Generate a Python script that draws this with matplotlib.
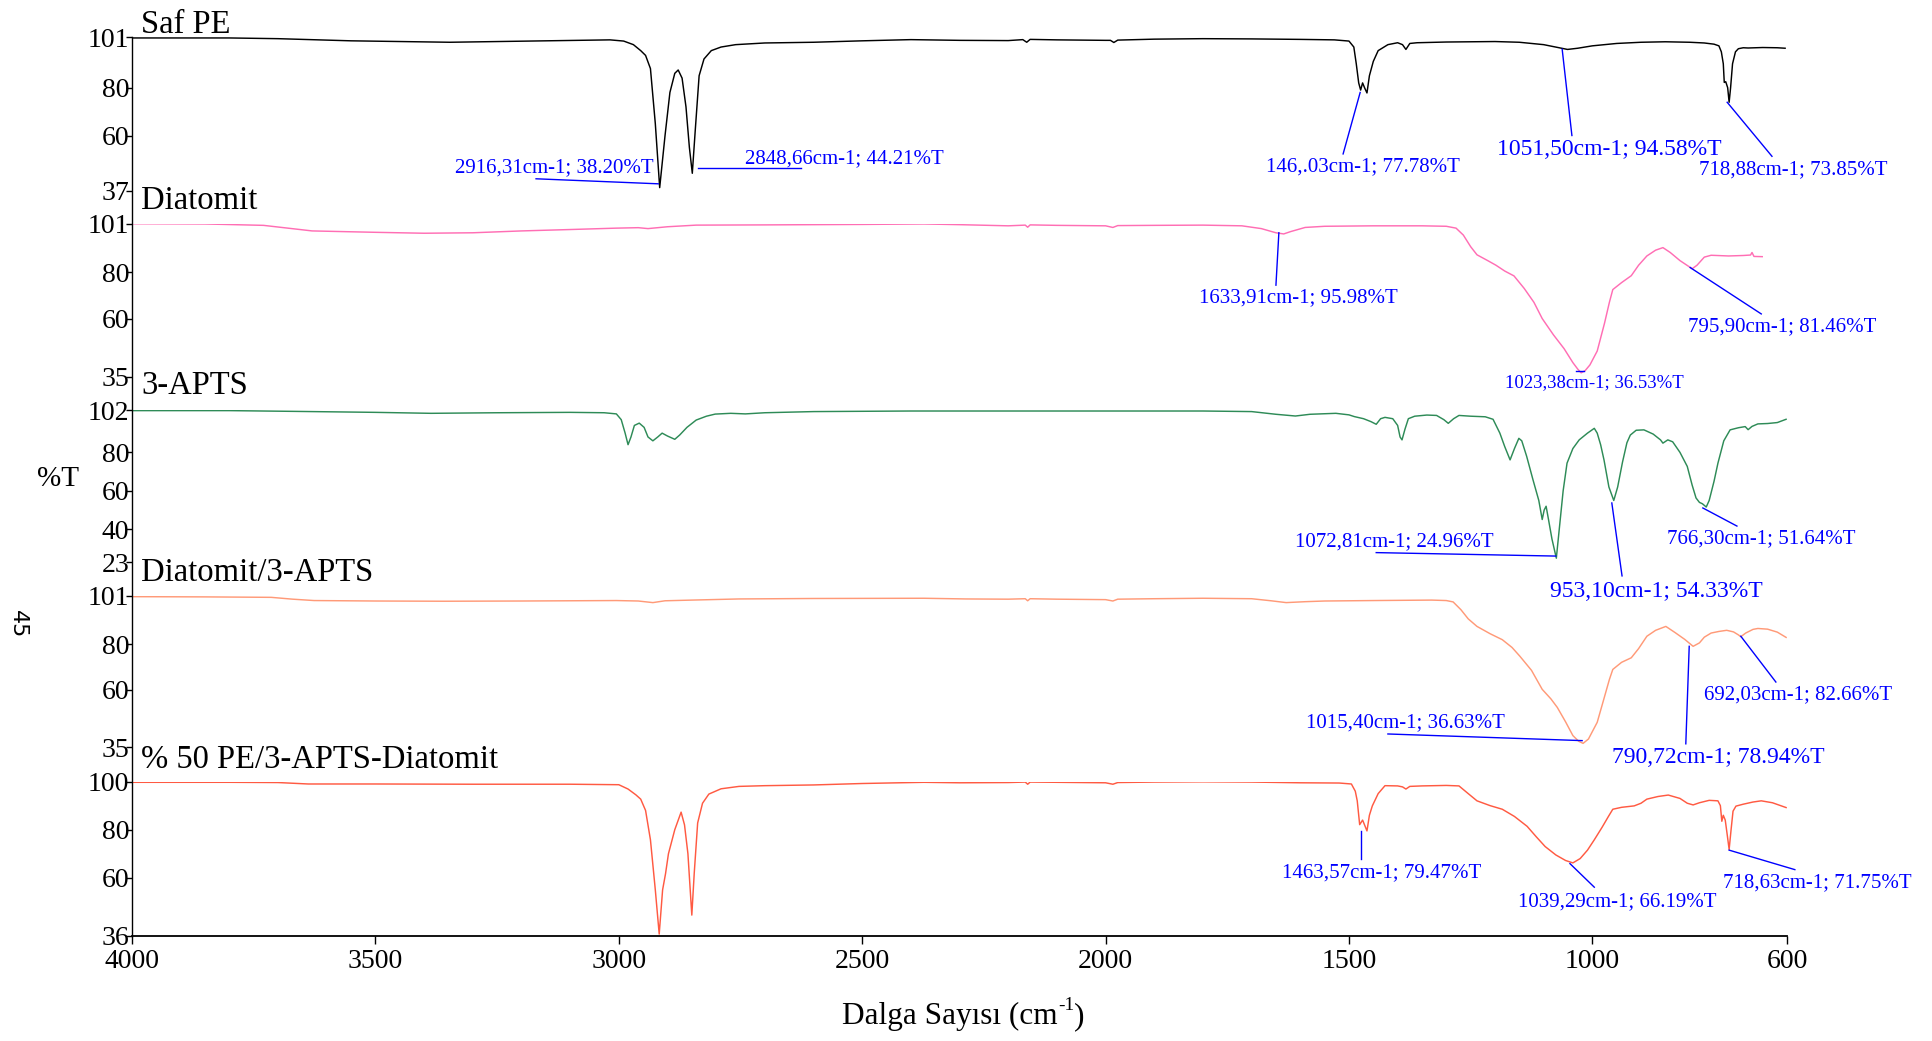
import matplotlib
matplotlib.use("Agg")
import matplotlib.pyplot as plt
from matplotlib.lines import Line2D

plt.rcParams['font.family'] = ['Liberation Serif', 'DejaVu Serif']

# ---------------- data ----------------
titles = ["Saf PE", "Diatomit", "3-APTS", "Diatomit/3-APTS", "% 50 PE/3-APTS-Diatomit"]
colors = ["#000000", "#FF6EB4", "#2E8B57", "#FF9A78", "#FF5A42"]
ylims = [(37, 101), (35, 101), (23, 102), (35, 101), (36, 100)]
yticks = [[37, 60, 80, 101], [35, 60, 80, 101], [23, 40, 60, 80, 102], [35, 60, 80, 101], [36, 60, 80, 100]]
xticks = [4000, 3500, 3000, 2500, 2000, 1500, 1000, 600]

wn_pe = [4000, 3800, 3700, 3550, 3347, 3150, 3018, 2990, 2970, 2955, 2945, 2935, 2925, 2916, 2905, 2895,
         2885, 2878, 2870, 2862, 2855, 2849, 2843, 2835, 2825, 2810, 2790, 2760, 2700, 2600, 2500, 2400,
         2300, 2200, 2170, 2162, 2155, 2100, 2000, 1990, 1983, 1975, 1900, 1800, 1700, 1600, 1530, 1500,
         1490, 1485, 1480, 1476, 1472, 1468, 1463, 1458, 1450, 1440, 1420, 1400, 1390, 1383, 1375, 1360,
         1300, 1200, 1150, 1100, 1051, 1030, 1000, 950, 900, 850, 800, 770, 750, 740, 735, 731, 729, 726,
         722, 719, 716, 712, 706, 700, 690, 680, 650, 620, 604]
t_pe = [100.8, 100.8, 100.5, 99.6, 99.0, 99.6, 100.0, 99.5, 98.0, 95.5, 93.5, 88.0, 65.0, 38.2, 60.0, 78.0,
        86.0, 87.4, 84.0, 72.0, 55.0, 44.2, 62.0, 85.0, 92.0, 95.5, 97.0, 98.0, 98.7, 99.0, 99.6, 100.1,
        99.8, 99.7, 100.1, 99.0, 100.2, 100.0, 99.8, 99.8, 98.9, 99.9, 100.3, 100.5, 100.4, 100.2, 100.0, 99.5,
        97.0, 90.0, 82.0, 79.0, 82.0, 80.0, 77.8, 85.0, 91.0, 95.5, 98.0, 98.8, 98.0, 96.0, 98.5, 98.8,
        99.1, 99.3, 99.0, 98.0, 96.0, 96.5, 97.5, 98.5, 99.0, 99.2, 99.0, 98.7, 98.2, 97.5, 95.0, 90.0, 82.2, 82.5,
        80.0, 73.9, 80.0, 90.0, 95.0, 96.3, 96.7, 96.6, 96.8, 96.7, 96.5]

wn_dia = [4000, 3850, 3730, 3680, 3630, 3500, 3400, 3300, 3200, 3100, 3005, 2960, 2940, 2900, 2841, 2700,
          2500, 2373, 2300, 2200, 2165, 2160, 2155, 2100, 2000, 1985, 1975, 1900, 1800, 1720, 1680, 1650,
          1634, 1620, 1590, 1550, 1450, 1350, 1300, 1280, 1265, 1250, 1237, 1215, 1198, 1180, 1161, 1140,
          1120, 1103, 1080, 1058, 1040, 1030, 1023, 1015, 1005, 990, 975, 965, 958, 940, 920, 905, 888, 870,
          855, 840, 820, 800, 795, 785, 770, 756, 720, 690, 675, 672, 668, 651]
t_dia = [100.9, 100.8, 100.2, 99.0, 97.8, 97.2, 96.8, 97.0, 97.8, 98.4, 99.0, 99.2, 98.8, 99.6, 100.3, 100.4,
         100.6, 100.8, 100.5, 100.0, 100.3, 99.4, 100.4, 100.2, 100.0, 99.3, 100.1, 100.2, 100.3, 100.0, 98.8, 97.0,
         96.5, 97.5, 99.3, 99.8, 100.0, 100.0, 99.8, 99.0, 96.0, 91.0, 87.5, 85.0, 83.0, 80.5, 78.4, 73.0,
         67.0, 60.0, 53.0, 47.0, 41.0, 38.2, 36.6, 37.5, 40.0, 46.0, 58.0, 67.0, 72.5, 75.5, 78.5, 83.0, 87.0, 89.5,
         90.6, 88.5, 85.0, 82.2, 81.5, 83.0, 86.5, 87.3, 87.0, 87.2, 87.4, 88.5, 86.8, 86.7]

wn_apts = [4000, 3800, 3663, 3500, 3386, 3250, 3100, 3030, 3005, 2995, 2987, 2981, 2975, 2968, 2958, 2948,
           2940, 2930, 2920, 2911, 2900, 2885, 2875, 2860, 2841, 2820, 2802, 2770, 2740, 2700, 2600, 2400,
           2200, 2000, 1800, 1700, 1650, 1610, 1580, 1527, 1500, 1489, 1470, 1455, 1444, 1435, 1426, 1410,
           1400, 1395, 1391, 1385, 1378, 1365, 1340, 1320, 1305, 1296, 1285, 1274, 1250, 1220, 1204, 1190,
           1180, 1169, 1160, 1151, 1145, 1135, 1122, 1110, 1103, 1099, 1095, 1090, 1083, 1074, 1068, 1060,
           1052, 1040, 1027, 1010, 996, 990, 983, 976, 966, 956, 948, 938, 929, 922, 910, 894, 875, 860,
           855, 845, 835, 820, 805, 795, 787, 780, 774, 766, 760, 750, 742, 730, 717, 700, 686, 680, 672,
           660, 640, 620, 602]
t_apts = [101.7, 101.7, 101.3, 100.8, 100.3, 100.6, 100.8, 100.6, 100.0, 97.0, 90.0, 84.0, 88.0, 94.0, 95.2, 93.0,
          88.0, 86.0, 88.0, 90.0, 88.5, 86.8, 89.0, 93.0, 96.8, 98.8, 99.9, 100.3, 100.0, 100.6, 101.2, 101.5,
          101.5, 101.5, 101.5, 101.2, 99.8, 98.9, 99.8, 100.3, 99.5, 98.6, 97.5, 96.0, 94.6, 97.5, 98.2, 97.5,
          94.0, 88.0, 86.5, 92.0, 97.5, 98.8, 99.4, 99.2, 97.0, 95.1, 97.5, 99.2, 98.8, 98.5, 97.2, 90.0,
          83.0, 76.1, 82.0, 87.3, 86.0, 78.0, 65.8, 55.0, 45.1, 50.0, 52.0, 45.0, 35.0, 25.0, 40.0, 60.0,
          74.4, 82.0, 86.5, 90.0, 92.5, 90.0, 84.0, 76.0, 62.0, 55.0, 62.0, 75.0, 85.0, 89.0, 91.5, 91.7, 89.5, 86.5,
          84.8, 86.5, 85.5, 80.0, 72.7, 63.0, 56.3, 54.0, 53.3, 51.6, 55.0, 65.0, 74.4, 86.0, 91.7, 92.8, 93.4, 91.8, 93.5,
          94.8, 95.0, 95.5, 97.2]

wn_da = [4000, 3850, 3714, 3670, 3626, 3500, 3359, 3200, 3005, 2960, 2930, 2905, 2850, 2753, 2600, 2373,
         2287, 2200, 2165, 2160, 2155, 2100, 2000, 1985, 1975, 1900, 1800, 1700, 1660, 1629, 1590, 1550,
         1450, 1330, 1300, 1286, 1270, 1255, 1237, 1210, 1185, 1165, 1149, 1125, 1103, 1085, 1072, 1055,
         1040, 1028, 1019, 1008, 990, 975, 965, 958, 940, 920, 905, 888, 870, 849, 830, 810, 793, 780, 770,
         756, 740, 724, 710, 700, 695, 685, 670, 660, 640, 620, 602]
t_da = [100.7, 100.6, 100.4, 99.6, 99.0, 98.8, 98.7, 98.8, 99.0, 98.8, 98.1, 98.9, 99.2, 99.7, 99.9, 100.0,
        99.7, 99.6, 99.8, 98.9, 99.8, 99.6, 99.4, 98.8, 99.6, 99.8, 100.0, 99.8, 98.9, 98.1, 98.5, 98.8,
        99.0, 99.2, 99.0, 98.4, 95.0, 91.0, 87.7, 84.5, 81.9, 78.5, 74.7, 68.5, 60.2, 56.0, 52.3, 46.0,
        40.0, 37.5, 36.6, 38.5, 45.8, 57.0, 64.5, 68.9, 72.0, 74.0, 78.0, 83.4, 86.0, 87.7, 85.0, 82.0, 79.0, 80.5, 83.0,
        84.8, 85.5, 86.0, 85.3, 84.0, 83.2, 84.8, 86.4, 86.8, 86.5, 85.2, 82.9]

wn_mix = [4000, 3800, 3700, 3638, 3500, 3300, 3100, 3000, 2981, 2965, 2955, 2945, 2935, 2925, 2917, 2910,
          2904, 2898, 2885, 2872, 2865, 2858, 2850, 2845, 2838, 2828, 2815, 2790, 2753, 2700, 2600, 2500,
          2373, 2300, 2200, 2165, 2160, 2155, 2100, 2000, 1985, 1975, 1900, 1800, 1700, 1600, 1520, 1495,
          1487, 1483, 1478, 1472, 1468, 1463, 1458, 1452, 1440, 1426, 1400, 1390, 1383, 1375, 1350, 1300,
          1274, 1255, 1237, 1210, 1185, 1160, 1134, 1115, 1097, 1075, 1055, 1040, 1025, 1010, 996, 980, 967,
          958, 940, 914, 900, 888, 865, 844, 820, 805, 793, 780, 760, 742, 737, 734, 731, 727, 723, 719, 715,
          711, 705, 690, 670, 653, 630, 602]
t_mix = [99.7, 99.7, 99.6, 99.0, 99.0, 98.9, 98.9, 98.7, 96.9, 94.5, 92.7, 88.0, 75.8, 55.0, 36.6, 55.0,
         61.7, 70.0, 80.0, 87.3, 82.0, 70.0, 44.5, 62.0, 82.8, 91.0, 94.8, 97.0, 98.0, 98.3, 98.6, 99.2,
         99.7, 99.5, 99.6, 99.8, 98.9, 99.8, 99.7, 99.5, 98.9, 99.6, 99.8, 99.9, 99.8, 99.5, 99.4, 99.0,
         96.0, 92.0, 82.1, 84.0, 82.0, 79.5, 86.0, 89.9, 95.0, 98.3, 98.2, 97.8, 96.9, 98.0, 98.2, 98.4,
         98.2, 95.0, 92.0, 90.0, 88.5, 85.5, 81.4, 77.0, 73.0, 69.5, 67.2, 66.2, 68.0, 71.5, 75.8, 81.0, 85.5,
         88.5, 89.3, 89.9, 91.0, 92.7, 93.8, 94.4, 93.0, 91.0, 90.3, 91.2, 92.2, 92.0, 90.0, 83.5, 86.0, 84.0, 78.0, 71.8, 80.0,
         87.7, 89.8, 90.6, 91.5, 92.0, 91.2, 89.2]

spectra_wn = [wn_pe, wn_dia, wn_apts, wn_da, wn_mix]
spectra_t = [t_pe, t_dia, t_apts, t_da, t_mix]

# annotations: panel, label, peak-end (x, y), text-end (x, y), text centre (x, y), font size
ann_panel = [0, 0, 0, 0, 0, 1, 1, 1, 2, 2, 2, 3, 3, 3, 4, 4, 4]
ann_label = ["2916,31cm-1; 38.20%T", "2848,66cm-1; 44.21%T", "146,.03cm-1; 77.78%T",
             "1051,50cm-1; 94.58%T", "718,88cm-1; 73.85%T",
             "1633,91cm-1; 95.98%T", "1023,38cm-1; 36.53%T", "795,90cm-1; 81.46%T",
             "1072,81cm-1; 24.96%T", "953,10cm-1; 54.33%T", "766,30cm-1; 51.64%T",
             "1015,40cm-1; 36.63%T", "790,72cm-1; 78.94%T", "692,03cm-1; 82.66%T",
             "1463,57cm-1; 79.47%T", "1039,29cm-1; 66.19%T", "718,63cm-1; 71.75%T"]
ann_p = [(2919, 39.8), (2837, 46.3), (1477, 78.0), (1062, 96.1), (723, 73.9),
         (1644, 97.0), (1033, 37.3), (799, 82.0),
         (1075, 26.1), (960, 53.7), (773, 51.1),
         (1021, 37.8), (801, 79.0), (695, 83.4),
         (1475, 79.3), (1046, 65.9), (719, 71.5)]
ann_e = [(3170, 41.9), (2626, 46.3), (1512, 52.3), (1042, 60.0), (631, 51.3),
         (1650, 74.4), (1017, 37.3), (653, 62.0),
         (1444, 27.9), (939, 15.8), (703, 41.7),
         (1420, 40.7), (808, 36.4), (623, 63.4),
         (1475, 68.0), (996, 56.1), (584, 63.4)]
ann_t = [(3132, 46.5), (2537, 50.5), (1471, 46.8), (966, 54.1), (588, 45.8),
         (1603, 68.9), (995, 32.4), (610, 56.7),
         (1407, 33.6), (869, 7.7), (653, 35.3),
         (1383, 45.8), (742, 30.3), (577, 57.8),
         (1432, 62.1), (949, 50.1), (538, 57.9)]
ann_size = [15, 15, 15, 17, 15, 15, 13.5, 15, 15, 17, 15, 15, 17, 15, 15, 15, 15]

# ---------------- layout ----------------
W, H = 1933, 1041
fig = plt.figure(figsize=(W / 100, H / 100), dpi=100)
left, width = 0.0683, 0.8562
panel_rects = [(0.8170, 0.1470), (0.6383, 0.1470), (0.4601, 0.1460), (0.2824, 0.1451), (0.1013, 0.1479)]
title_offsets = [3.5, 10.5, 11.5, 11.0, 10.0]

axes = []
for i, (b, h) in enumerate(panel_rects):
    ax = fig.add_axes([left, b, width, h])
    ax.plot(spectra_wn[i], spectra_t[i], color=colors[i], lw=1.05)
    ax.set_xlim(4000, 600)
    ax.set_ylim(*ylims[i])
    ax.set_yticks(yticks[i])
    ax.tick_params(axis='y', direction='out', length=4, width=1, pad=-2, labelsize=20)
    for s in ['top', 'right', 'left']:
        ax.spines[s].set_visible(False)
    if i < 4:
        ax.spines['bottom'].set_visible(False)
        ax.set_xticks([])
    else:
        ax.spines['bottom'].set_linewidth(1.3)
        ax.set_xticks(xticks)
        ax.tick_params(axis='x', direction='out', length=6, width=1, pad=4, labelsize=20)
    ax.patch.set_visible(False)
    ax.annotate(titles[i], xy=(0.0055, 1.0), xycoords='axes fraction',
                xytext=(0, title_offsets[i]), textcoords='offset points',
                ha='left', va='baseline', fontsize=23.5)
    axes.append(ax)

# continuous left axis line
top_y = panel_rects[0][0] + panel_rects[0][1]
bot_y = panel_rects[4][0]
fig.add_artist(Line2D([left, left], [bot_y, top_y], transform=fig.transFigure, color='black', lw=1.0))

# annotations
for k in range(len(ann_label)):
    ax = axes[ann_panel[k]]
    (x0, y0), (x1, y1), (xt, yt) = ann_p[k], ann_e[k], ann_t[k]
    ax.plot([x0, x1], [y0, y1], color='#0000FF', lw=1.0, clip_on=False)
    ax.text(xt, yt, ann_label[k], color='#0000FF', fontsize=ann_size[k],
            ha='center', va='center', clip_on=False)

# x label with a hyphen superscript, composed of three pieces
renderer = fig.canvas.get_renderer()
lab_size = 22.5
y_lab = 1 - 1024 / H
parts = ["Dalga Sayısı (cm", "-1", ")"]
tmp = [fig.text(0, 0, p, fontsize=(lab_size * 0.62 if j == 1 else lab_size)) for j, p in enumerate(parts)]
widths = [t.get_window_extent(renderer).width / W for t in tmp]
for t in tmp:
    t.remove()
total = sum(widths)
x_cur = left + width / 2 - total / 2 + 0.002
for j, p in enumerate(parts):
    if j == 1:
        fig.text(x_cur, y_lab + 14 / H, p, fontsize=lab_size * 0.62, ha='left', va='baseline')
    else:
        fig.text(x_cur, y_lab, p, fontsize=lab_size, ha='left', va='baseline')
    x_cur += widths[j]

fig.text(58 / W, 1 - 479 / H, "%T", ha='center', va='center', fontsize=21)
fig.text(18 / W, 1 - 624 / H, "45", ha='center', va='center', fontsize=16,
         rotation=-90, family='DejaVu Sans')

fig.savefig("out.png", dpi=100)
